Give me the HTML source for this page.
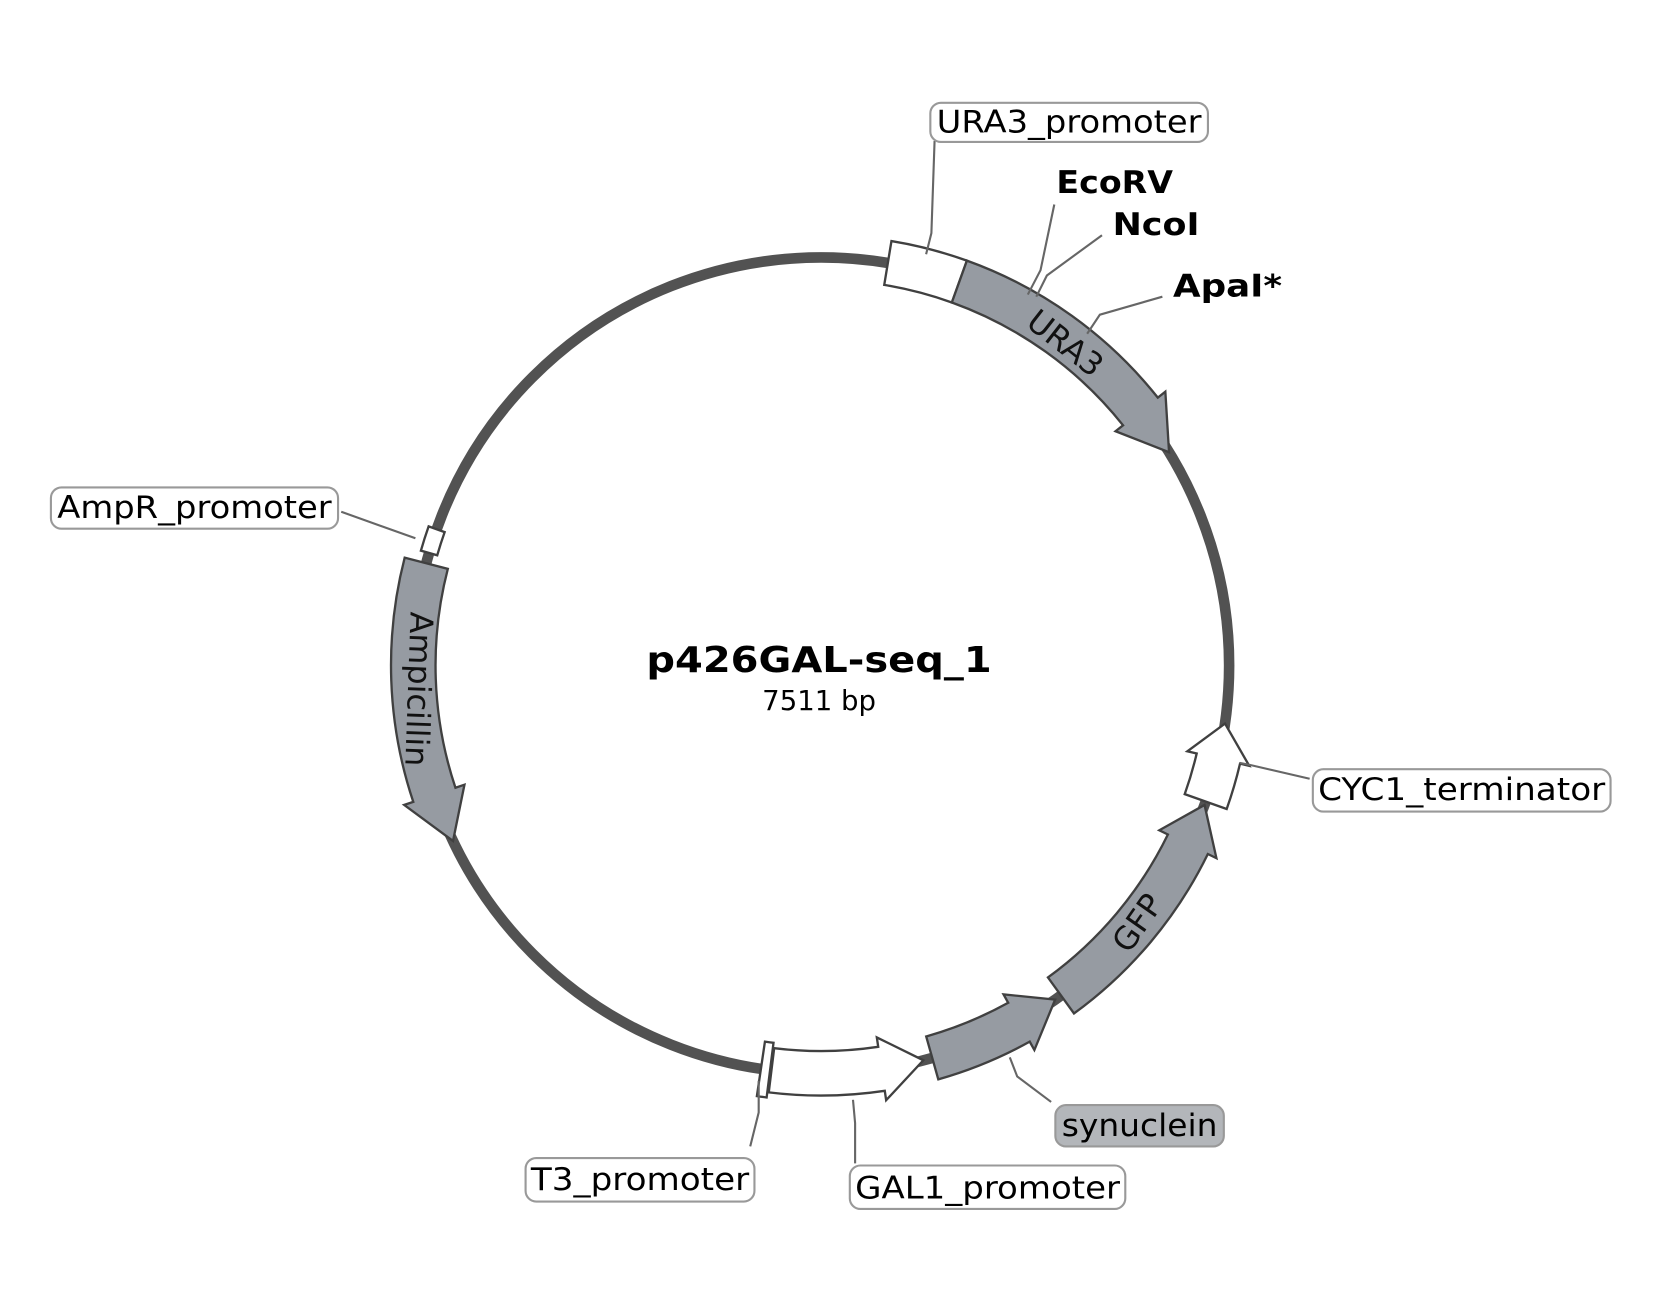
<!DOCTYPE html>
<html><head><meta charset="utf-8"><style>
html,body{margin:0;padding:0;background:#fff;}
svg{display:block;}
text{font-family:"DejaVu Sans","Liberation Sans",sans-serif;}
</style></head><body>
<svg id="s" width="1653" height="1299" viewBox="0 0 1560 1226" xmlns="http://www.w3.org/2000/svg">
<rect width="1560" height="1226" fill="#fff"/>
<circle cx="775" cy="628" r="385" fill="none" stroke="#525252" stroke-width="10"/>
<g id="feat"></g>
<g stroke="#666" stroke-width="2" fill="none">
<polyline points="882,133 879,220 874,240"/>
<polyline points="995,193 982,255 970,278"/>
<polyline points="1040,222 988,260 978,280"/>
<polyline points="1097,280 1038,297 1026,315"/>
<polyline points="322,483 392,508"/>
<polyline points="1236,735 1180,722 1170,720"/>
<polyline points="992,1040 960,1016 953,998"/>
<polyline points="807,1098 807,1060 805,1038"/>
<polyline points="708,1082 716,1050 716,1020"/>
</g>
<g stroke="#999" stroke-width="2">
<rect x="878" y="97" width="262" height="37" rx="10" fill="#fff"/>
<rect x="48" y="460" width="271" height="39" rx="10" fill="#fff"/>
<rect x="1239" y="726" width="281" height="40" rx="10" fill="#fff"/>
<rect x="996" y="1043" width="159" height="39" rx="10" fill="#b3b6ba"/>
<rect x="802" y="1100" width="260" height="41" rx="10" fill="#fff"/>
<rect x="496" y="1093" width="216" height="41" rx="10" fill="#fff"/>
</g>
<g font-size="29" fill="#000">
<text x="884" y="125" textLength="250" lengthAdjust="spacingAndGlyphs">URA3_promoter</text>
<text x="54" y="489" textLength="259" lengthAdjust="spacingAndGlyphs">AmpR_promoter</text>
<text x="1244" y="755" textLength="271" lengthAdjust="spacingAndGlyphs">CYC1_terminator</text>
<text x="1002" y="1072" textLength="147" lengthAdjust="spacingAndGlyphs">synuclein</text>
<text x="807" y="1131" textLength="250" lengthAdjust="spacingAndGlyphs">GAL1_promoter</text>
<text x="501" y="1123" textLength="206" lengthAdjust="spacingAndGlyphs">T3_promoter</text>
</g>
<g font-size="29" font-weight="bold" fill="#000">
<text x="997" y="182" textLength="110" lengthAdjust="spacingAndGlyphs">EcoRV</text>
<text x="1050" y="222" textLength="82" lengthAdjust="spacingAndGlyphs">NcoI</text>
<text x="1107" y="280" textLength="103" lengthAdjust="spacingAndGlyphs">ApaI*</text>
</g>
<text x="773" y="634" font-size="34" font-weight="bold" text-anchor="middle" textLength="326" lengthAdjust="spacingAndGlyphs">p426GAL-seq_1</text>
<text x="773" y="670" font-size="26" text-anchor="middle">7511 bp</text>
<g font-size="30" fill="#111">
<text x="0" y="0" text-anchor="middle" transform="translate(999,332) rotate(38)">URA3</text>
<text x="0" y="0" text-anchor="middle" transform="translate(385,650) rotate(92)">Ampicillin</text>
<text x="0" y="0" text-anchor="middle" transform="translate(1082,877) rotate(-55)">GFP</text>
</g>
</svg>
<script>
var cx=775,cy=628,R=385,W=21,E=9;
function P(a,r){a=a*Math.PI/180;return [(cx+r*Math.sin(a)).toFixed(1),(cy-r*Math.cos(a)).toFixed(1)];}
function arc(a0,a1,r){var p=P(a1,r);var sw=a1>a0?1:0;var lg=Math.abs(a1-a0)>180?1:0;return "A"+r+","+r+" 0 "+lg+" "+sw+" "+p[0]+","+p[1];}
function feat(a0,a1,fill,h,w){w=w||W;var d;var dir=a1>a0?1:-1;
 if(h){var ah=a1-dir*h;var s=P(a0,R+w);d="M"+s.join(",")+arc(a0,ah,R+w)+"L"+P(ah,R+w+E).join(",")+"L"+P(a1,R).join(",")+"L"+P(ah,R-w-E).join(",")+"L"+P(ah,R-w).join(",")+arc(ah,a0,R-w)+"Z";}
 else{d="M"+P(a0,R+w).join(",")+arc(a0,a1,R+w)+"L"+P(a1,R-w).join(",")+arc(a1,a0,R-w)+"Z";}
 return '<path d="'+d+'" fill="'+fill+'" stroke="#404040" stroke-width="2.2" stroke-linejoin="miter"/>';}
var g="",G="#969ba2",Wh="#fff";
g+=feat(9.4,19.8,Wh,0);
g+=feat(19.8,58.5,G,7);
g+=feat(286,289.5,Wh,0,8);
g+=feat(284.5,244.5,G,7);
g+=feat(188.5,187.2,Wh,0,26);
g+=feat(187,165.5,Wh,6);
g+=feat(164.2,145,G,6);
g+=feat(144,110,G,6);
g+=feat(109.5,98.2,Wh,5);
document.getElementById("feat").innerHTML=g;
</script>
</body></html>
